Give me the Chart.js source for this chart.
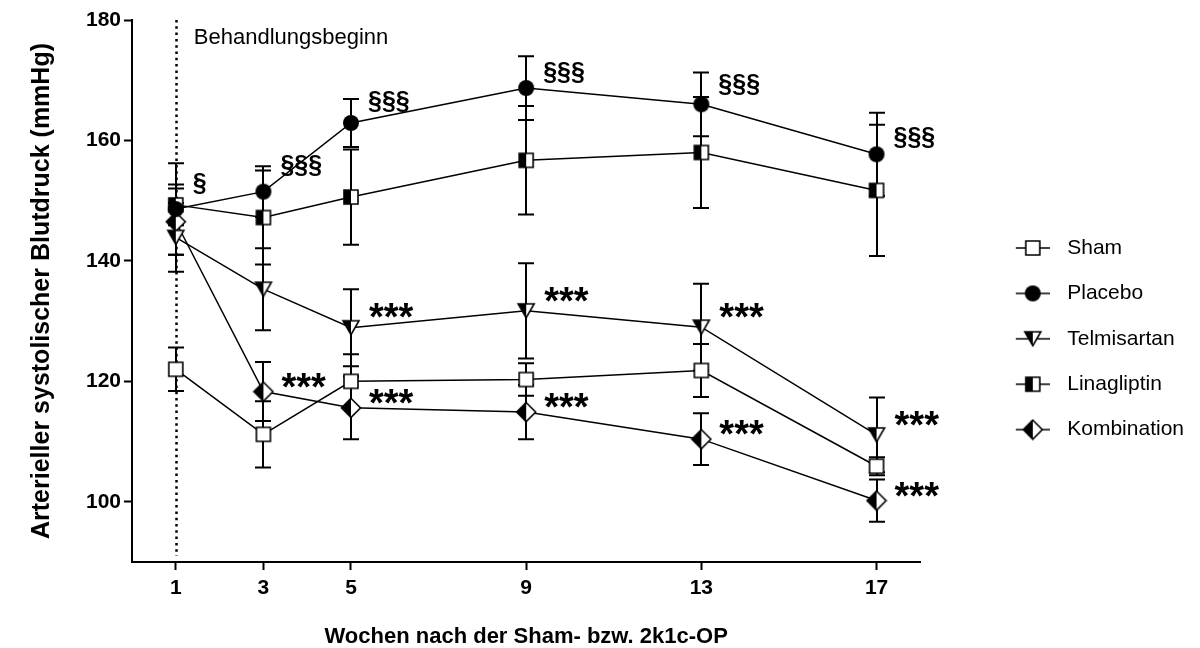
<!DOCTYPE html>
<html>
<head>
<meta charset="utf-8">
<script src="https://cdn.jsdelivr.net/npm/chart.js@4.4.1/dist/chart.umd.min.js"></script>
<style>
  html, body { margin: 0; padding: 0; background: #fff; }
</style>
</head>
<body>
<canvas id="bpChart" width="1200" height="648"></canvas>
<script>
// weeks after sham / 2k1c surgery
const weeks = [1, 3, 5, 9, 13, 17];
const yTicks = [100, 120, 140, 160, 180];

const shamMean = [122.0, 111.2, 120.0, 120.3, 121.8, 105.9];
const shamSem = [3.6, 5.5, 4.5, 2.7, 4.4, 1.5];
const placeboMean = [148.6, 151.5, 162.9, 168.7, 166.0, 157.7];
const placeboSem = [7.6, 4.2, 4.0, 5.3, 5.3, 6.9];
const telmiMean = [143.9, 135.3, 128.9, 131.7, 129.0, 111.1];
const telmiSem = [5.7, 6.8, 6.4, 7.9, 7.2, 6.2];
const linaMean = [149.3, 147.2, 150.6, 156.7, 158.0, 151.7];
const linaSem = [3.4, 7.8, 7.9, 9.0, 9.2, 10.9];
const kombiMean = [146.5, 118.3, 115.6, 114.9, 110.4, 100.2];
const kombiSem = [5.5, 4.9, 5.2, 4.5, 4.3, 3.5];

const placeboSig = ['§', '§§§', '§§§', '§§§', '§§§', '§§§'];
const telmiSig = ['', '', '***', '***', '***', '***'];
const kombiSig = ['', '***', '***', '***', '***', '***'];

const startWeek = 1;
const startLabel = 'Behandlungsbeginn';

const FONT = 'Arial, "Liberation Sans", sans-serif';
Chart.defaults.font.family = FONT;
Chart.defaults.color = '#000';

// marker drawing (Prism style, half filled)
function drawMarker(ctx, shape, cx, cy) {
    ctx.lineWidth = 1.6;
    ctx.strokeStyle = '#000';
    if (shape === 'circle') {
        ctx.beginPath();
        ctx.arc(cx, cy, 8, 0, Math.PI * 2);
        ctx.fillStyle = '#000';
        ctx.fill();
        return;
    }
    const p = new Path2D();
    if (shape === 'square' || shape === 'halfSquare') {
        p.rect(cx - 7, cy - 7, 14, 14);
    } else if (shape === 'triangle') {
        p.moveTo(cx - 8, cy - 7); p.lineTo(cx + 8, cy - 7); p.lineTo(cx, cy + 7); p.closePath();
    } else if (shape === 'diamond') {
        p.moveTo(cx, cy - 9.5); p.lineTo(cx + 9.5, cy); p.lineTo(cx, cy + 9.5); p.lineTo(cx - 9.5, cy); p.closePath();
    }
    ctx.fillStyle = '#fff';
    ctx.fill(p);
    if (shape !== 'square') {
        ctx.save();
        ctx.clip(p);
        ctx.fillStyle = '#000';
        ctx.fillRect(cx - 12, cy - 12, 12, 24);
        ctx.restore();
    }
    ctx.stroke(p);
}

function markerIcon(shape) {
    const c = document.createElement('canvas');
    c.width = 22; c.height = 22;
    drawMarker(c.getContext('2d'), shape, 11, 11);
    return c;
}

// legend icon: marker with a short line, shifted right inside a wide canvas
function legendIcon(shape) {
    const c = document.createElement('canvas');
    c.width = 98; c.height = 22;
    const ctx = c.getContext('2d');
    const mx = 81;
    ctx.beginPath();
    ctx.moveTo(mx - 17, 11); ctx.lineTo(mx + 17, 11);
    ctx.lineWidth = 1.5; ctx.strokeStyle = '#000';
    ctx.stroke();
    drawMarker(ctx, shape, mx, 11);
    return c;
}

const pts = means => weeks.map((w, i) => ({ x: w, y: means[i] }));

// sigDy: baseline offset from the point (px), per point where labels were placed by hand
const series = [
    { label: 'Sham', mean: shamMean, sem: shamSem, shape: 'square', sig: null },
    { label: 'Placebo', mean: placeboMean, sem: placeboSem, shape: 'circle',
      sig: placeboSig, sigFont: 'bold 25px ' + FONT, sigDx: 17,
      sigDy: [-17.6, -18.6, -13.6, -7.6, -12, -9.6] },
    { label: 'Telmisartan', mean: telmiMean, sem: telmiSem, shape: 'triangle',
      sig: telmiSig, sigFont: 'bold 38px ' + FONT, sigDx: 18, sigDy: 2.7 },
    { label: 'Linagliptin', mean: linaMean, sem: linaSem, shape: 'halfSquare', sig: null },
    { label: 'Kombination', mean: kombiMean, sem: kombiSem, shape: 'diamond',
      sig: kombiSig, sigFont: 'bold 38px ' + FONT, sigDx: 18, sigDy: 8 }
];

const datasets = series.map(s => ({
    label: s.label,
    data: pts(s.mean),
    sem: s.sem,
    sig: s.sig,
    sigFont: s.sigFont,
    sigDx: s.sigDx,
    sigDy: s.sigDy,
    legendIcon: legendIcon(s.shape),
    pointStyle: markerIcon(s.shape),
    pointRadius: 9,
    borderColor: '#000',
    backgroundColor: '#000',
    borderWidth: 1.5,
    tension: 0,
    fill: false
}));

const errorBars = {
    id: 'errorBars',
    beforeDatasetsDraw(chart) {
        const { ctx, scales: { x, y }, chartArea } = chart;
        ctx.save();
        // dotted start-of-treatment line
        const sx = Math.round(x.getPixelForValue(startWeek)) + 0.5;
        ctx.beginPath();
        ctx.setLineDash([2.5, 3.8]);
        ctx.lineWidth = 2.5;
        ctx.strokeStyle = '#000';
        ctx.moveTo(sx, chartArea.top);
        ctx.lineTo(sx, y.getPixelForValue(91));
        ctx.stroke();
        ctx.setLineDash([]);

        ctx.lineWidth = 2;
        chart.data.datasets.forEach((ds, di) => {
            const meta = chart.getDatasetMeta(di);
            meta.data.forEach((pt, i) => {
                const v = ds.data[i].y, e = ds.sem[i];
                const px = Math.round(pt.x);
                const top = y.getPixelForValue(v + e);
                const bot = y.getPixelForValue(v - e);
                ctx.beginPath();
                ctx.moveTo(px, top); ctx.lineTo(px, bot);
                ctx.moveTo(px - 8, top); ctx.lineTo(px + 8, top);
                ctx.moveTo(px - 8, bot); ctx.lineTo(px + 8, bot);
                ctx.stroke();
            });
        });
        ctx.restore();
    },
    afterDatasetsDraw(chart) {
        const { ctx, scales: { x }, chartArea } = chart;
        ctx.save();
        ctx.fillStyle = '#000';
        ctx.textBaseline = 'alphabetic';
        ctx.textAlign = 'left';
        ctx.font = '22px ' + FONT;
        ctx.fillText(startLabel, x.getPixelForValue(startWeek) + 18, chartArea.top + 24);

        chart.data.datasets.forEach((ds, di) => {
            if (!ds.sig) return;
            const meta = chart.getDatasetMeta(di);
            ctx.font = ds.sigFont;
            meta.data.forEach((pt, i) => {
                if (!ds.sig[i]) return;
                const dy = Array.isArray(ds.sigDy) ? ds.sigDy[i] : ds.sigDy;
                ctx.fillText(ds.sig[i], pt.x + ds.sigDx, pt.y + dy);
            });
        });
        ctx.restore();
    }
};

const ctx = document.getElementById('bpChart').getContext('2d');

new Chart(ctx, {
    type: 'line',
    data: { datasets: datasets },
    options: {
        responsive: false,
        animation: false,
        events: [],
        layout: { padding: { top: 20, right: 6, bottom: 0, left: 0 } },
        scales: {
            x: {
                type: 'linear', min: 0, max: 18,
                afterBuildTicks: s => { s.ticks = weeks.map(v => ({ value: v })); },
                afterFit: s => { s.height = 86; s.paddingLeft = 0; s.paddingRight = 0; },
                grid: { display: true, drawOnChartArea: false, drawTicks: true,
                        tickLength: 8, tickWidth: 2, tickColor: '#000' },
                border: { display: true, color: '#000', width: 2 },
                ticks: { font: { size: 21, weight: 'bold' }, color: '#000', padding: 6,
                         autoSkip: false, maxRotation: 0 },
                title: { display: true, text: 'Wochen nach der Sham- bzw. 2k1c-OP',
                         font: { size: 22, weight: 'bold', lineHeight: 1.05 }, color: '#000', padding: 0 }
            },
            y: {
                min: 90, max: 180,
                afterBuildTicks: s => { s.ticks = yTicks.map(v => ({ value: v })); },
                afterFit: s => { s.width = 132; s.paddingTop = 0; s.paddingBottom = 0; },
                grid: { display: true, drawOnChartArea: false, drawTicks: true,
                        tickLength: 8, tickWidth: 2, tickColor: '#000' },
                border: { display: true, color: '#000', width: 2 },
                ticks: { font: { size: 21, weight: 'bold' }, color: '#000', padding: 3 },
                title: { display: true, text: 'Arterieller systolischer Blutdruck (mmHg)',
                         font: { size: 25, weight: 'bold' }, color: '#000',
                         padding: { top: 27, bottom: 0 } }
            }
        },
        plugins: {
            tooltip: { enabled: false },
            legend: {
                position: 'right',
                title: { display: true, text: '', font: { size: 8 }, padding: 0 },
                labels: {
                    usePointStyle: true,
                    pointStyleWidth: 112,
                    padding: 24.4,
                    font: { size: 21 },
                    color: '#000',
                    generateLabels: chart => chart.data.datasets.map((ds, i) => ({
                        text: ds.label,
                        pointStyle: ds.legendIcon,
                        fillStyle: '#000',
                        strokeStyle: '#000',
                        lineWidth: 0,
                        hidden: false,
                        datasetIndex: i,
                        fontColor: '#000'
                    }))
                }
            }
        }
    },
    plugins: [errorBars]
});
</script>
</body>
</html>
